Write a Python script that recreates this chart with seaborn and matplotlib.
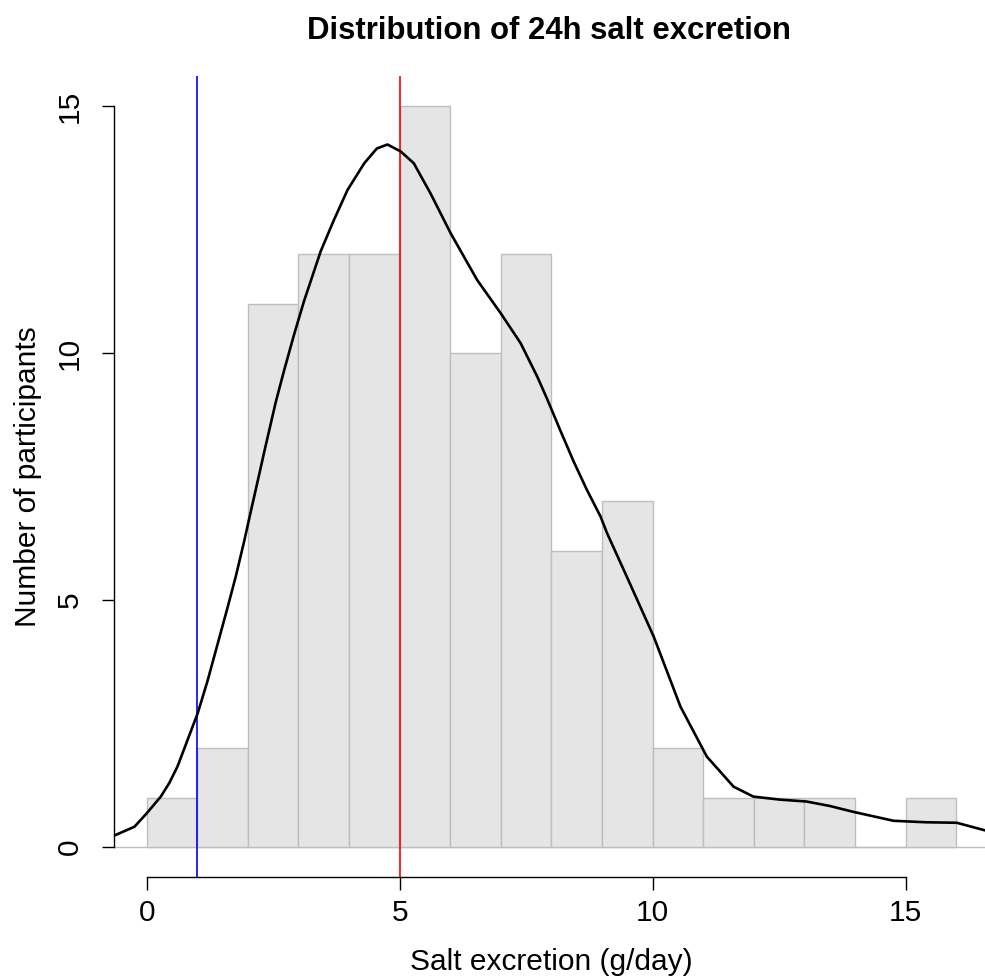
import numpy as np
import pandas as pd
import matplotlib
matplotlib.use("Agg")
import matplotlib.pyplot as plt
import seaborn as sns

# Histogram bins (g/day) and participant counts
bin_edges = [0, 1, 2, 3, 4, 5, 6, 7, 8, 9, 10, 11, 12, 13, 14, 15, 16]
counts = [1, 2, 11, 12, 12, 15, 10, 12, 6, 7, 2, 1, 1, 1, 0, 1]

# Density curve (scaled to counts)
dens_x = [-0.62, -0.24, 0.0, 0.28, 0.45, 0.61, 0.81, 1.01, 1.2, 1.4, 1.6, 1.76, 1.93,
          2.06, 2.16, 2.32, 2.55, 2.72, 2.91, 3.11, 3.44, 3.70, 3.97, 4.30, 4.55,
          4.76, 5.02, 5.28, 5.61, 6.01, 6.53, 7.00, 7.39, 7.72, 7.91, 8.18, 8.44,
          8.70, 8.97, 9.10, 9.49, 10.02, 10.55, 11.07, 11.60, 11.99, 12.5, 13.04,
          13.5, 13.97, 14.76, 15.4, 16.01, 16.7]
dens_y = [0.24, 0.41, 0.68, 1.02, 1.30, 1.63, 2.17, 2.71, 3.35, 4.10, 4.85, 5.47, 6.2,
          6.8, 7.25, 7.98, 9.0, 9.66, 10.36, 11.05, 12.06, 12.69, 13.30, 13.84, 14.14,
          14.22, 14.08, 13.84, 13.23, 12.42, 11.48, 10.80, 10.20, 9.52, 9.08, 8.42, 7.80,
          7.23, 6.69, 6.35, 5.47, 4.26, 2.84, 1.83, 1.22, 1.02, 0.96, 0.92,
          0.83, 0.71, 0.53, 0.50, 0.49, 0.30]

mean_line = 5
low_line = 1

mids = [(a + b) / 2 for a, b in zip(bin_edges[:-1], bin_edges[1:])]
hist_df = pd.DataFrame({"salt": mids, "n": counts})
dens_df = pd.DataFrame({"x": dens_x, "y": dens_y})

sns.set_style("ticks")
plt.rcParams["font.family"] = ["Liberation Sans", "DejaVu Sans"]
plt.rcParams["text.color"] = "black"
plt.rcParams["axes.labelcolor"] = "black"
plt.rcParams["xtick.color"] = "black"
plt.rcParams["ytick.color"] = "black"
fs = 21.5

fig = plt.figure(figsize=(9.85, 9.8), dpi=100)
ax = fig.add_axes([0.116, 0.1055, 0.8877, 0.8166])

ax.axhline(0, color="#BEBEBE", lw=1, zorder=0)
sns.histplot(data=hist_df, x="salt", weights="n", bins=bin_edges, ax=ax,
             color="#E5E5E5", edgecolor="#BEBEBE", linewidth=1, alpha=1)
ax.axvline(low_line, color="#0000FF", lw=1.2)
ax.axvline(mean_line, color="#FF0000", lw=1.2)
sns.lineplot(data=dens_df, x="x", y="y", color="black", lw=1.9, ax=ax, sort=True)

ax.set_xlim(-0.64, 16.64)
ax.set_ylim(-0.6, 15.6)
ax.set_xticks([0, 5, 10, 15])
ax.set_yticks([0, 5, 10, 15])
ax.set_xticklabels(["0", "5", "10", "15"], fontsize=fs)
ax.set_yticklabels(["0", "5", "10", "15"], fontsize=fs, rotation=90, va="center")
ax.tick_params(length=9, width=1, color="black")
ax.tick_params(axis="x", pad=7)
ax.tick_params(axis="y", pad=13)

sns.despine(ax=ax)
ax.spines["left"].set_bounds(0, 15)
ax.spines["bottom"].set_bounds(0, 15)
for s in ["left", "bottom"]:
    ax.spines[s].set_color("black")
    ax.spines[s].set_linewidth(1)

ax.set_xlabel("Salt excretion (g/day)", fontsize=fs, labelpad=15)
ax.set_ylabel("Number of participants", fontsize=fs, labelpad=10)
fig.text(0.557, 0.968, "Distribution of 24h salt excretion", fontsize=22.4,
         fontweight="bold", ha="center", va="center")

fig.savefig("out.png", dpi=100)
